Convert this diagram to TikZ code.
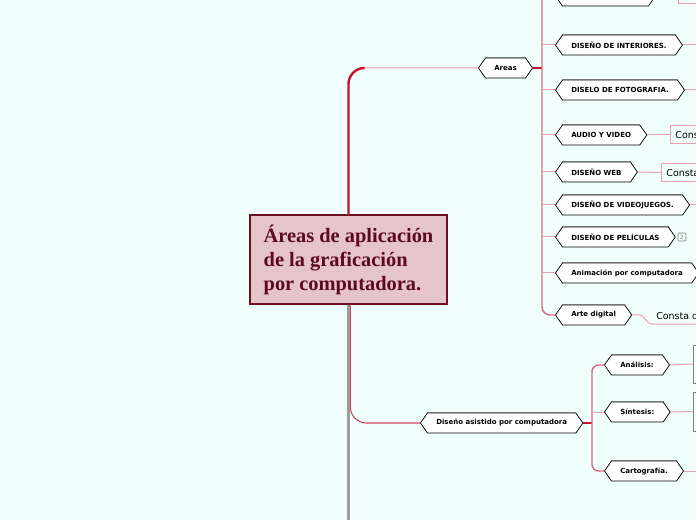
\documentclass[tikz,border=0pt]{standalone}
\usepackage{fontspec}
\setmainfont{Liberation Serif}
\newfontfamily\lblfont{DejaVu Sans}
\usetikzlibrary{shapes.symbols}
\definecolor{bgc}{RGB}{241,255,252}
\definecolor{mainfill}{RGB}{229,196,202}
\definecolor{maroon}{RGB}{110,14,34}
\definecolor{maintext}{RGB}{92,10,28}
\definecolor{crim}{RGB}{200,18,50}
\definecolor{pinkl}{RGB}{232,160,175}
\definecolor{pinkt}{RGB}{218,105,130}
\definecolor{trunkgray}{RGB}{155,155,155}
\definecolor{edgegray}{RGB}{115,115,115}
\begin{document}
\begin{tikzpicture}[x=0.75pt,y=-0.75pt,
  hexa/.style={signal, signal to=west and east, signal pointer angle=110,
    draw=black, line width=0.55pt, fill=white, minimum height=15pt,
    inner xsep=6.6pt, inner ysep=0pt,
    font=\lblfont\bfseries\fontsize{5.25}{6}\selectfont, text=black, anchor=west},
  topedge/.style={draw=edgegray, line width=1.2pt},
  branch/.style={draw=pinkl, line width=0.75pt},
  trunk/.style={draw=pinkt, line width=1.1pt},
  stub/.style={draw=crim, line width=1.7pt},
  cbox/.style={draw=pinkl, line width=0.75pt, anchor=west, minimum height=13.5pt,
    inner xsep=3.7pt, inner ysep=0pt, font=\lblfont\fontsize{7.1}{8}\selectfont, text=black},
  gbox/.style={draw=gray, line width=0.75pt, anchor=west, minimum width=30pt},
  ctext/.style={anchor=west, inner sep=0pt, font=\lblfont\fontsize{7.1}{8}\selectfont, text=black}
]
\useasboundingbox (0,0) rectangle (696,520);
\fill[bgc] (0,0) rectangle (696,520);
\clip (0,0) rectangle (696,520);

% central node
\node[draw=maroon, fill=mainfill, line width=0.9pt, minimum width=147.75pt,
  minimum height=66.75pt, align=left,
  font=\bfseries\fontsize{15.3}{18}\selectfont, text=maintext] (c) at (348.5,259.5)
  {Áreas de aplicación\\de la graficación\\por computadora.};

% first-level nodes
\node[hexa] (ar) at (478,68) {Areas};
\node[hexa] (dac) at (420,423) {Diseño asistido por computadora};

% connector centre -> Areas
\draw[branch, rounded corners=12pt] (c.north) |- (ar.west);
\draw[crim, line width=1.8pt, rounded corners=12pt] (c.north) |- (364,68);

% connector centre -> Diseño asistido
\coordinate (cb) at (348.5,530);
\draw[draw=crim!80, line width=0.8pt, rounded corners=12pt] ([xshift=1.4pt]c.south) |- (dac.west);
\draw[draw=trunkgray, line width=2.3pt] (c.south) -- (cb);

% Areas children
\coordinate (tA) at (542,68);
\coordinate (tTop) at (542,-10);
\node[hexa, minimum width=75pt] (d0) at (555,-4) {};
\node[hexa] (d1) at (555,45) {DISEÑO DE INTERIORES.};
\node[hexa] (d2) at (555,90) {DISELO DE FOTOGRAFIA.};
\node[hexa] (d3) at (555,135) {AUDIO Y VIDEO};
\node[hexa] (d4) at (555,172) {DISEÑO WEB};
\node[hexa] (d5) at (555,205) {DISEÑO DE VIDEOJUEGOS.};
\node[hexa] (d6) at (555,237) {DISEÑO DE PELÍCULAS};
\node[hexa] (d7) at (555,273) {Animación por computadora};
\node[hexa] (d8) at (555,315) {Arte digital};

\draw[stub] (ar.east) -- (tA);
\draw[trunk, rounded corners=6pt] (tTop) |- (d8.west);
\foreach \n in {d0,d1,d2,d3,d4,d5,d6,d7}
  \draw[branch] (\n.west) -- (\n.west -| tA);

% right-side content of Areas children
\node[cbox, minimum width=40pt, anchor=south west] (b0) at (678,4) {Consta de};
\draw[branch] (d0.east) -- (d0.east -| b0.west);
\coordinate (e1) at (705,45);
\coordinate (e2) at (705,90);
\coordinate (e5) at (705,205);
\coordinate (e7) at (705,273);
\draw[branch] (d1.east) -- (e1);
\draw[branch] (d2.east) -- (e2);
\draw[branch] (d5.east) -- (e5);
\draw[branch] (d7.east) -- (e7);
\node[cbox] (b3) at (670,135) {Consta de};
\node[cbox] (b4) at (661,172.5) {Consta de};
\draw[branch] (d3.east) -- (b3.west);
\draw[branch] (d4.east) -- (b4.west);
\node[draw=gray, rounded corners=1pt, minimum size=6pt, inner sep=0pt,
  font=\lblfont\fontsize{4.5}{5}\selectfont, text=gray] (bd) at (682,237) {2};
\node[ctext] (t8) at (656,315.5) {Consta de};
\coordinate (e8) at (705,324);
\draw[branch] (d8.east) -- (640,315) .. controls (645,315) and (645,324) .. (653,324) -- (e8);

% Diseño asistido children
\coordinate (tB) at (592,423);
\node[hexa] (an) at (604,365) {Análisis:};
\node[hexa] (si) at (604,412) {Síntesis:};
\node[hexa] (ca) at (604,471) {Cartografía.};
\draw[stub] (dac.east) -- (tB);
\draw[trunk, rounded corners=5pt] (an.west) -| (tB) |- (ca.west);
\draw[branch] (si.west) -- (si.west -| tB);
\node[gbox, minimum height=28.5pt] (ga) at (693,364) {};
\node[gbox, minimum height=29.25pt] (gs) at (693,411.5) {};
\coordinate (eC) at (705,471);
\draw[branch] (an.east) -- (ga.west);
\draw[branch] (si.east) -- (gs.west);
\draw[branch] (ca.east) -- (eC);

% shaded top edges of the hexagon nodes
\foreach \n in {ar,dac,d0,d1,d2,d3,d4,d5,d6,d7,d8,an,si,ca}
  \draw[topedge] ([xshift=5.25pt]\n.north -| \n.west) -- ([xshift=-5.25pt]\n.north -| \n.east);
\end{tikzpicture}
\end{document}
